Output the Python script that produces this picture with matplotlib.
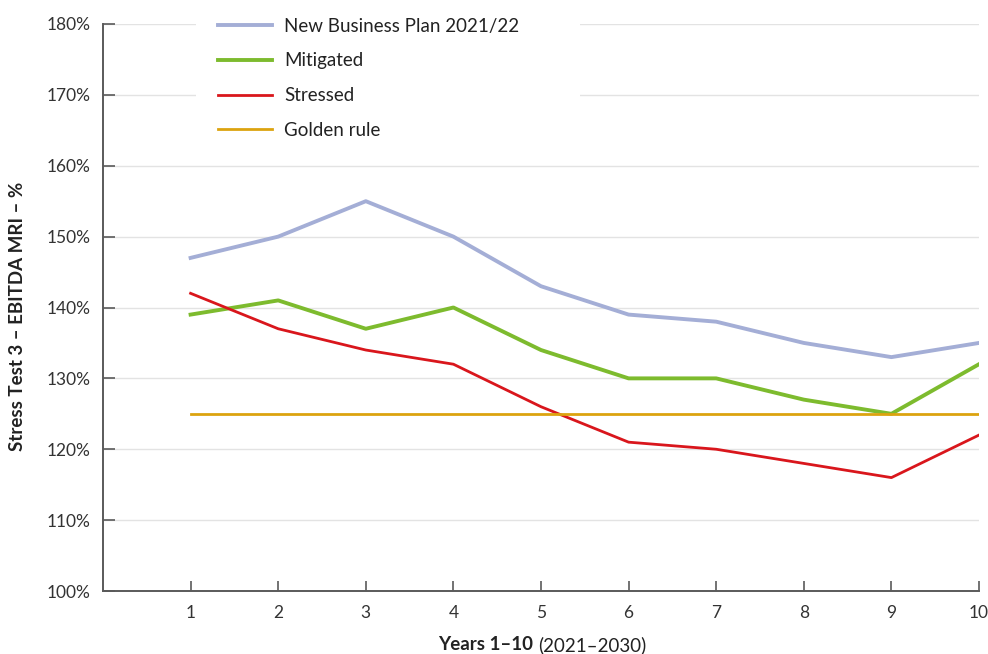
import matplotlib
matplotlib.use("Agg")
import matplotlib.pyplot as plt
from matplotlib.ticker import FuncFormatter

plt.rcParams['font.family'] = ['Lato', 'DejaVu Sans']

years = [1, 2, 3, 4, 5, 6, 7, 8, 9, 10]
business_plan = [147, 150, 155, 150, 143, 139, 138, 135, 133, 135]
mitigated = [139, 141, 137, 140, 134, 130, 130, 127, 125, 132]
stressed = [142, 137, 134, 132, 126, 121, 120, 118, 116, 122]
golden_rule = [125, 125, 125, 125, 125, 125, 125, 125, 125, 125]

fig = plt.figure(figsize=(9.88, 6.54), dpi=100)
ax = fig.add_axes([103 / 988, 1 - 591 / 654, 876 / 988, 567 / 654])

ax.plot(years, business_plan, color='#a4aed6', lw=2.8, label='New Business Plan 2021/22', zorder=3)
ax.plot(years, mitigated, color='#7dbb2e', lw=2.8, label='Mitigated', zorder=3)
ax.plot(years, stressed, color='#d9161c', lw=2.0, label='Stressed', zorder=3)
ax.plot(years, golden_rule, color='#dca30f', lw=2.0, label='Golden rule', zorder=3)

ax.set_xlim(0, 10)
ax.set_ylim(100, 180)
ax.set_xticks(years)
ax.set_yticks(range(100, 181, 10))
ax.yaxis.set_major_formatter(FuncFormatter(lambda v, p: f'{v:.0f}%'))

ax.set_axisbelow(True)
ax.grid(axis='y', color='#e3e3e3', lw=1.0)
ax.grid(axis='x', visible=False)

for side in ['top', 'right']:
    ax.spines[side].set_visible(False)
for side in ['left', 'bottom']:
    ax.spines[side].set_color('#5a5a5a')
    ax.spines[side].set_linewidth(1.4)

ax.tick_params(axis='y', direction='in', length=8.5, width=1.2, color='#5a5a5a',
               pad=9, labelsize=12.5, labelcolor='#333333')
ax.tick_params(axis='x', direction='in', length=7, width=1.2, color='#5a5a5a',
               pad=10, labelsize=12.5, labelcolor='#333333')

# legend sits in a white box that interrupts the top gridlines
leg = ax.legend(loc='upper left', bbox_to_anchor=(0.1056, 1.051, 0.439, 0), mode='expand',
                frameon=True, facecolor='white', edgecolor='none', framealpha=1,
                fancybox=False, borderpad=1.2, borderaxespad=0, handlelength=2.9,
                handletextpad=0.64, labelspacing=0.95, fontsize=13.5)
for t in leg.get_texts():
    t.set_color('#222222')

fig.text(18 / 988, 1 - 316 / 654, 'Stress Test 3 – EBITDA MRI – %', rotation=90,
         ha='center', va='center', fontsize=13.5, fontweight='bold', color='#222222')
fig.text(533 / 988, 9 / 654, 'Years 1–10', ha='right', va='center',
         fontsize=13.5, fontweight='bold', color='#222222')
fig.text(538 / 988, 9 / 654, '(2021–2030)', ha='left', va='center',
         fontsize=13.5, color='#222222')

fig.savefig('out.png', dpi=100)
